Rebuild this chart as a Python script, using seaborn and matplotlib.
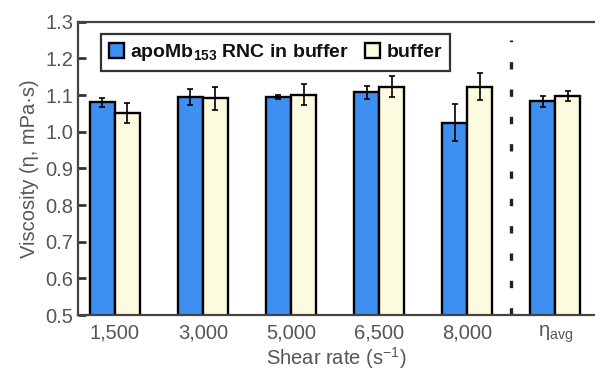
import numpy as np
import pandas as pd
import seaborn as sns
import matplotlib.pyplot as plt

# data
shear_labels = ["1,500", "3,000", "5,000", "6,500", "8,000", "η$_\\mathregular{avg}$"]
rnc_mean = [1.080, 1.094, 1.094, 1.107, 1.025, 1.083]
rnc_err = [0.013, 0.022, 0.005, 0.018, 0.050, 0.015]
buf_mean = [1.051, 1.091, 1.101, 1.123, 1.123, 1.098]
buf_err = [0.026, 0.031, 0.029, 0.028, 0.036, 0.013]
series = ["apoMb$_\\mathregular{153}$ RNC in buffer", "buffer"]
colors = ["#3d8ff2", "#fdfbdf"]

sns.set_theme(style="white")
plt.rcParams['font.family'] = ['Liberation Sans', 'DejaVu Sans']
plt.rcParams['mathtext.fontset'] = 'custom'
plt.rcParams['mathtext.rm'] = 'Liberation Sans'

df = pd.DataFrame({
    "shear": shear_labels * 2,
    "viscosity": rnc_mean + buf_mean,
    "err": rnc_err + buf_err,
    "series": [series[0]] * 6 + [series[1]] * 6,
})

fig = plt.figure(figsize=(5.95, 3.73), dpi=100)
ax = fig.add_axes([0.1306, 0.155, 0.8694, 0.787])

sns.barplot(data=df, x="shear", y="viscosity", hue="series", order=shear_labels,
            hue_order=series, palette=colors, width=0.57, errorbar=None,
            edgecolor="black", linewidth=1.7, saturation=1, ax=ax)

# error bars on top of each bar
bars = [p for p in ax.patches if p.get_height() > 0][:12]
errs = rnc_err + buf_err
for p, e in zip(bars, errs):
    ax.errorbar(p.get_x() + p.get_width() / 2, p.get_y() + p.get_height(), yerr=e,
                fmt="none", ecolor="black", elinewidth=1.2, capsize=2.5, capthick=1.2)

# dashed separator before the average
ax.axvline(4.5, ymin=0, ymax=(1.25 - 0.5) / 0.8, color="#222222", lw=2.4,
           linestyle=(0, (2.2, 6.0)), solid_capstyle="butt", dash_capstyle="butt")

ax.set_ylim(0.5, 1.3)
ax.set_xlim(-0.42, 5.45)
ax.set_yticks(np.arange(0.5, 1.31, 0.1))
ax.set_yticklabels([f"{v:.1f}" for v in np.arange(0.5, 1.31, 0.1)])
ax.tick_params(axis="y", direction="in", length=6, width=2, color="#333333",
               labelsize=14.5, labelcolor="#555555", pad=3, left=True)
ax.tick_params(axis="x", length=0, labelsize=14.5, labelcolor="#555555", pad=6)
ax.set_xlabel("Shear rate (s$^{\\mathregular{-1}}$)", fontsize=14.5, color="#555555", labelpad=0)
ax.set_ylabel("Viscosity (η, mPa·s)", fontsize=14.5, color="#555555", labelpad=5)

for side in ["left", "bottom", "top"]:
    ax.spines[side].set_color("#444444")
    ax.spines[side].set_linewidth(1.6)
ax.spines["right"].set_visible(False)

leg = ax.legend(loc="upper left", bbox_to_anchor=(0.045, 0.957), ncol=2,
                fancybox=False, edgecolor="#333333", framealpha=1,
                prop={"weight": "bold", "size": 14}, handlelength=0.8,
                handleheight=0.8, handletextpad=0.3, columnspacing=0.8,
                borderpad=0.4, borderaxespad=0)
leg.get_frame().set_linewidth(1.6)
for t in leg.get_texts():
    t.set_color("#111111")

fig.savefig("out.png", dpi=100)
